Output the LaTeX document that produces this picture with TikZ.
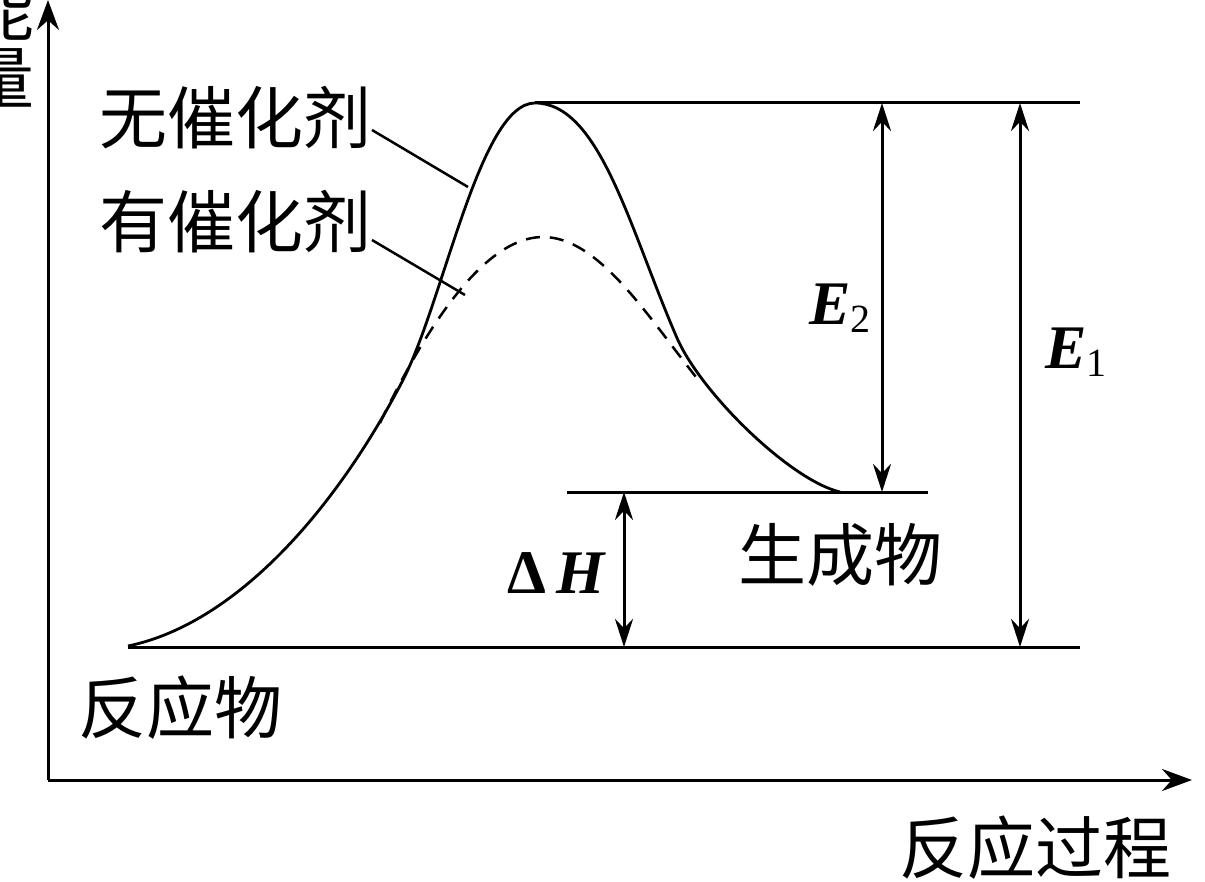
\documentclass[tikz,border=0pt]{standalone}
\usepackage{fontspec}
\setmainfont{Liberation Serif}
\newfontfamily\cjk{Noto Sans CJK SC}
\usetikzlibrary{arrows.meta}
\begin{document}
\begin{tikzpicture}[x=1pt,y=-1pt,
  ln/.style={line width=3pt},
  dimarrow/.style={line width=3pt,{Stealth[length=28pt,width=18pt]}-{Stealth[length=28pt,width=18pt]}},
  axis/.style={line width=3pt,-{Stealth[length=30pt,width=22pt]}},
  cn/.style={font=\cjk\fontsize{68}{68}\selectfont, inner sep=0pt},
  lab/.style={font=\fontsize{62}{62}\selectfont, inner sep=0pt}]
\useasboundingbox (0,0) rectangle (1205,882);
% axes
\coordinate (O) at (48,780);
\coordinate (ytop) at (48,0);
\coordinate (xend) at (1192,780);
\draw[axis] (O) -- (ytop);
\draw[axis] (O) -- (xend);
\node[cn,align=center] (ylab) at (0,43) {能\\量};
\node[cn] (xlab) at (1035,848) {反应过程};
% levels
\coordinate (peak) at (535,103);
\coordinate (topR) at (1080,103);
\coordinate (reacL) at (128,647);
\coordinate (reacR) at (1080,647);
\coordinate (prodL) at (567,492);
\coordinate (prodR) at (928,492);
\draw[ln] (peak) -- (topR);
\draw[ln] (reacL) -- (reacR);
\draw[ln] (prodL) -- (prodR);
% dimension arrows
\coordinate (e2t) at (882,103); \coordinate (e2b) at (882,492);
\coordinate (e1t) at (1020,103); \coordinate (e1b) at (1020,647);
\coordinate (dht) at (624,492); \coordinate (dhb) at (624,647);
\draw[dimarrow] (e2t) -- (e2b);
\draw[dimarrow] (e1t) -- (e1b);
\draw[dimarrow] (dht) -- (dhb);
\node[lab] (E2) at (840,308) {{\bfseries\itshape E}\raisebox{-0.12em}{\fontsize{40}{40}\selectfont 2}};
\node[lab] (E1) at (1076,352) {{\bfseries\itshape E}\raisebox{-0.12em}{\fontsize{40}{40}\selectfont 1}};
\node[lab] (dH) at (556,573) {{\bfseries Δ}\,{\bfseries\itshape H}};
% curves
\coordinate (c0) at (128,646);
\coordinate (c1) at (403,380);
\coordinate (c3) at (677,338);
\coordinate (c4) at (840,492);
\draw[line width=2.8pt] (c0) .. controls (230,625) and (330,520) .. (c1)
  .. controls (444,300) and (480,103) .. (peak)
  .. controls (600,103) and (630,230) .. (c3)
  .. controls (701,393) and (790,480) .. (c4);
\coordinate (d0) at (380,423);
\coordinate (dpeak) at (543,237);
\coordinate (d2) at (700,382);
\draw[line width=2.5pt,dash pattern=on 14pt off 10pt] (d0) .. controls (420,340) and (480,237) .. (dpeak)
  .. controls (600,237) and (650,320) .. (d2);
% labels
\node[cn] (wu) at (235,118) {无催化剂};
\node[cn] (you) at (235,222) {有催化剂};
\node[cn] (prod) at (840,555) {生成物};
\node[cn] (reac) at (180,708) {反应物};
\coordinate (l1a) at (372,130); \coordinate (l1b) at (468,187);
\coordinate (l2a) at (372,240); \coordinate (l2b) at (465,295);
\draw[line width=2.5pt] (l1a) -- (l1b);
\draw[line width=2.5pt] (l2a) -- (l2b);
\end{tikzpicture}
\end{document}
